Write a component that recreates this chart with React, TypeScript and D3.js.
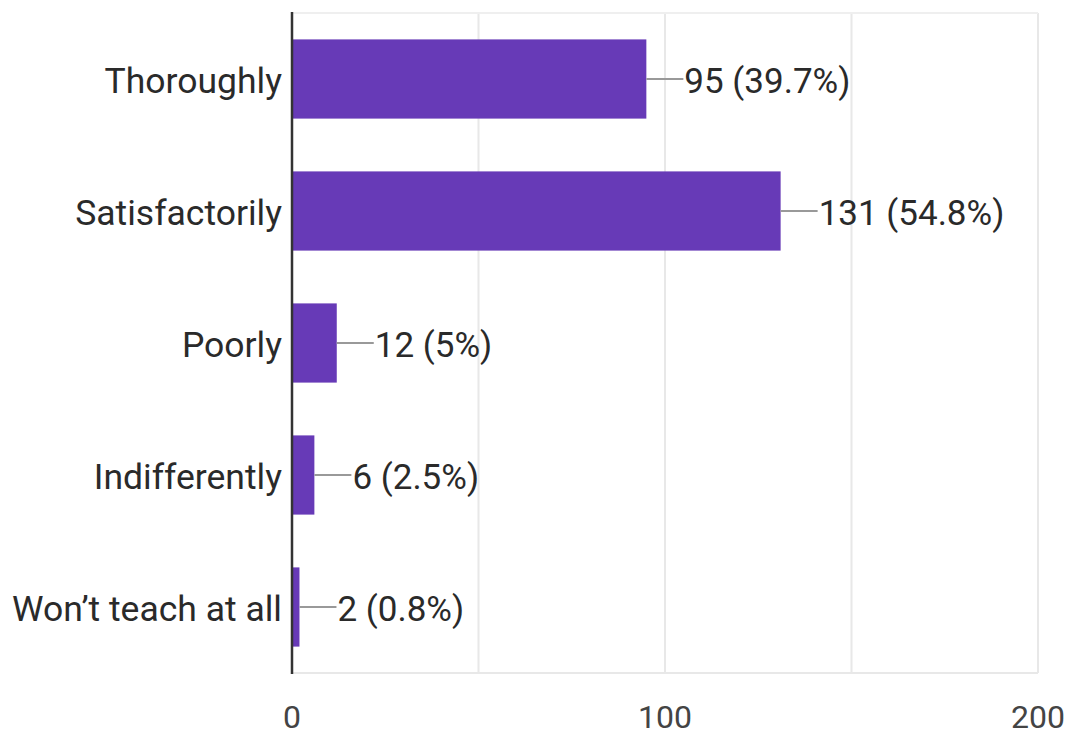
import React from "react";
import * as d3 from "d3";

const categories = ["Thoroughly", "Satisfactorily", "Poorly", "Indifferently", "Won\u2019t teach at all"];
const counts = [95, 131, 12, 6, 2];
const percentLabels = ["39.7%", "54.8%", "5%", "2.5%", "0.8%"];
const xTicks = [0, 100, 200];
const gridTicks = [50, 100, 150, 200];

const W = 1073;
const H = 736;
const margin = { left: 292, right: 35, top: 13, bottom: 63 };

export default function App() {
  const x = d3.scaleLinear().domain([0, 200]).range([margin.left, W - margin.right]);
  const y = d3
    .scaleBand<string>()
    .domain(categories)
    .range([margin.top, H - margin.bottom])
    .paddingInner(0.4)
    .paddingOuter(0.2);
  const font = "Roboto, 'Noto Sans', sans-serif";
  const textColor = "#2a2a2a";
  return (
    <svg
      width={W}
      height={H}
      style={{ position: "absolute", left: 0, top: 0, background: "#fff" }}
      fontFamily={font}
    >
      {/* grid */}
      {gridTicks.map((t) => (
        <line key={"g" + t} x1={x(t)} x2={x(t)} y1={margin.top} y2={H - margin.bottom} stroke="#e8e8e8" strokeWidth={2} />
      ))}
      <line x1={margin.left} x2={x(200)} y1={margin.top} y2={margin.top} stroke="#efefef" strokeWidth={2} />
      <line x1={margin.left} x2={x(200)} y1={H - margin.bottom} y2={H - margin.bottom} stroke="#e8e8e8" strokeWidth={2} />
      {/* bars */}
      {categories.map((c, i) => {
        const bx = x(0);
        const bw = x(counts[i]) - x(0);
        const by = y(c)!;
        const bh = y.bandwidth();
        const cy = by + bh / 2;
        const end = x(counts[i]);
        return (
          <g key={c}>
            <rect x={bx} y={by} width={bw} height={bh} fill="#673ab7" />
            <line x1={end} x2={end + 37} y1={cy} y2={cy} stroke="#999" strokeWidth={2} />
            <text x={end + 38} y={cy} dy="0.4em" fontSize={35} fill={textColor}>
              {`${counts[i]} (${percentLabels[i]})`}
            </text>
            <text x={margin.left - 10} y={cy} dy="0.4em" fontSize={35.5} fill={textColor} textAnchor="end">
              {c}
            </text>
          </g>
        );
      })}
      {/* axis */}
      <line x1={margin.left} x2={margin.left} y1={margin.top - 1} y2={H - margin.bottom + 1} stroke="#333" strokeWidth={2.5} />
      {xTicks.map((t) => (
        <text key={"t" + t} x={x(t)} y={728} fontSize={32} fill="#444" textAnchor="middle">
          {t}
        </text>
      ))}
    </svg>
  );
}
